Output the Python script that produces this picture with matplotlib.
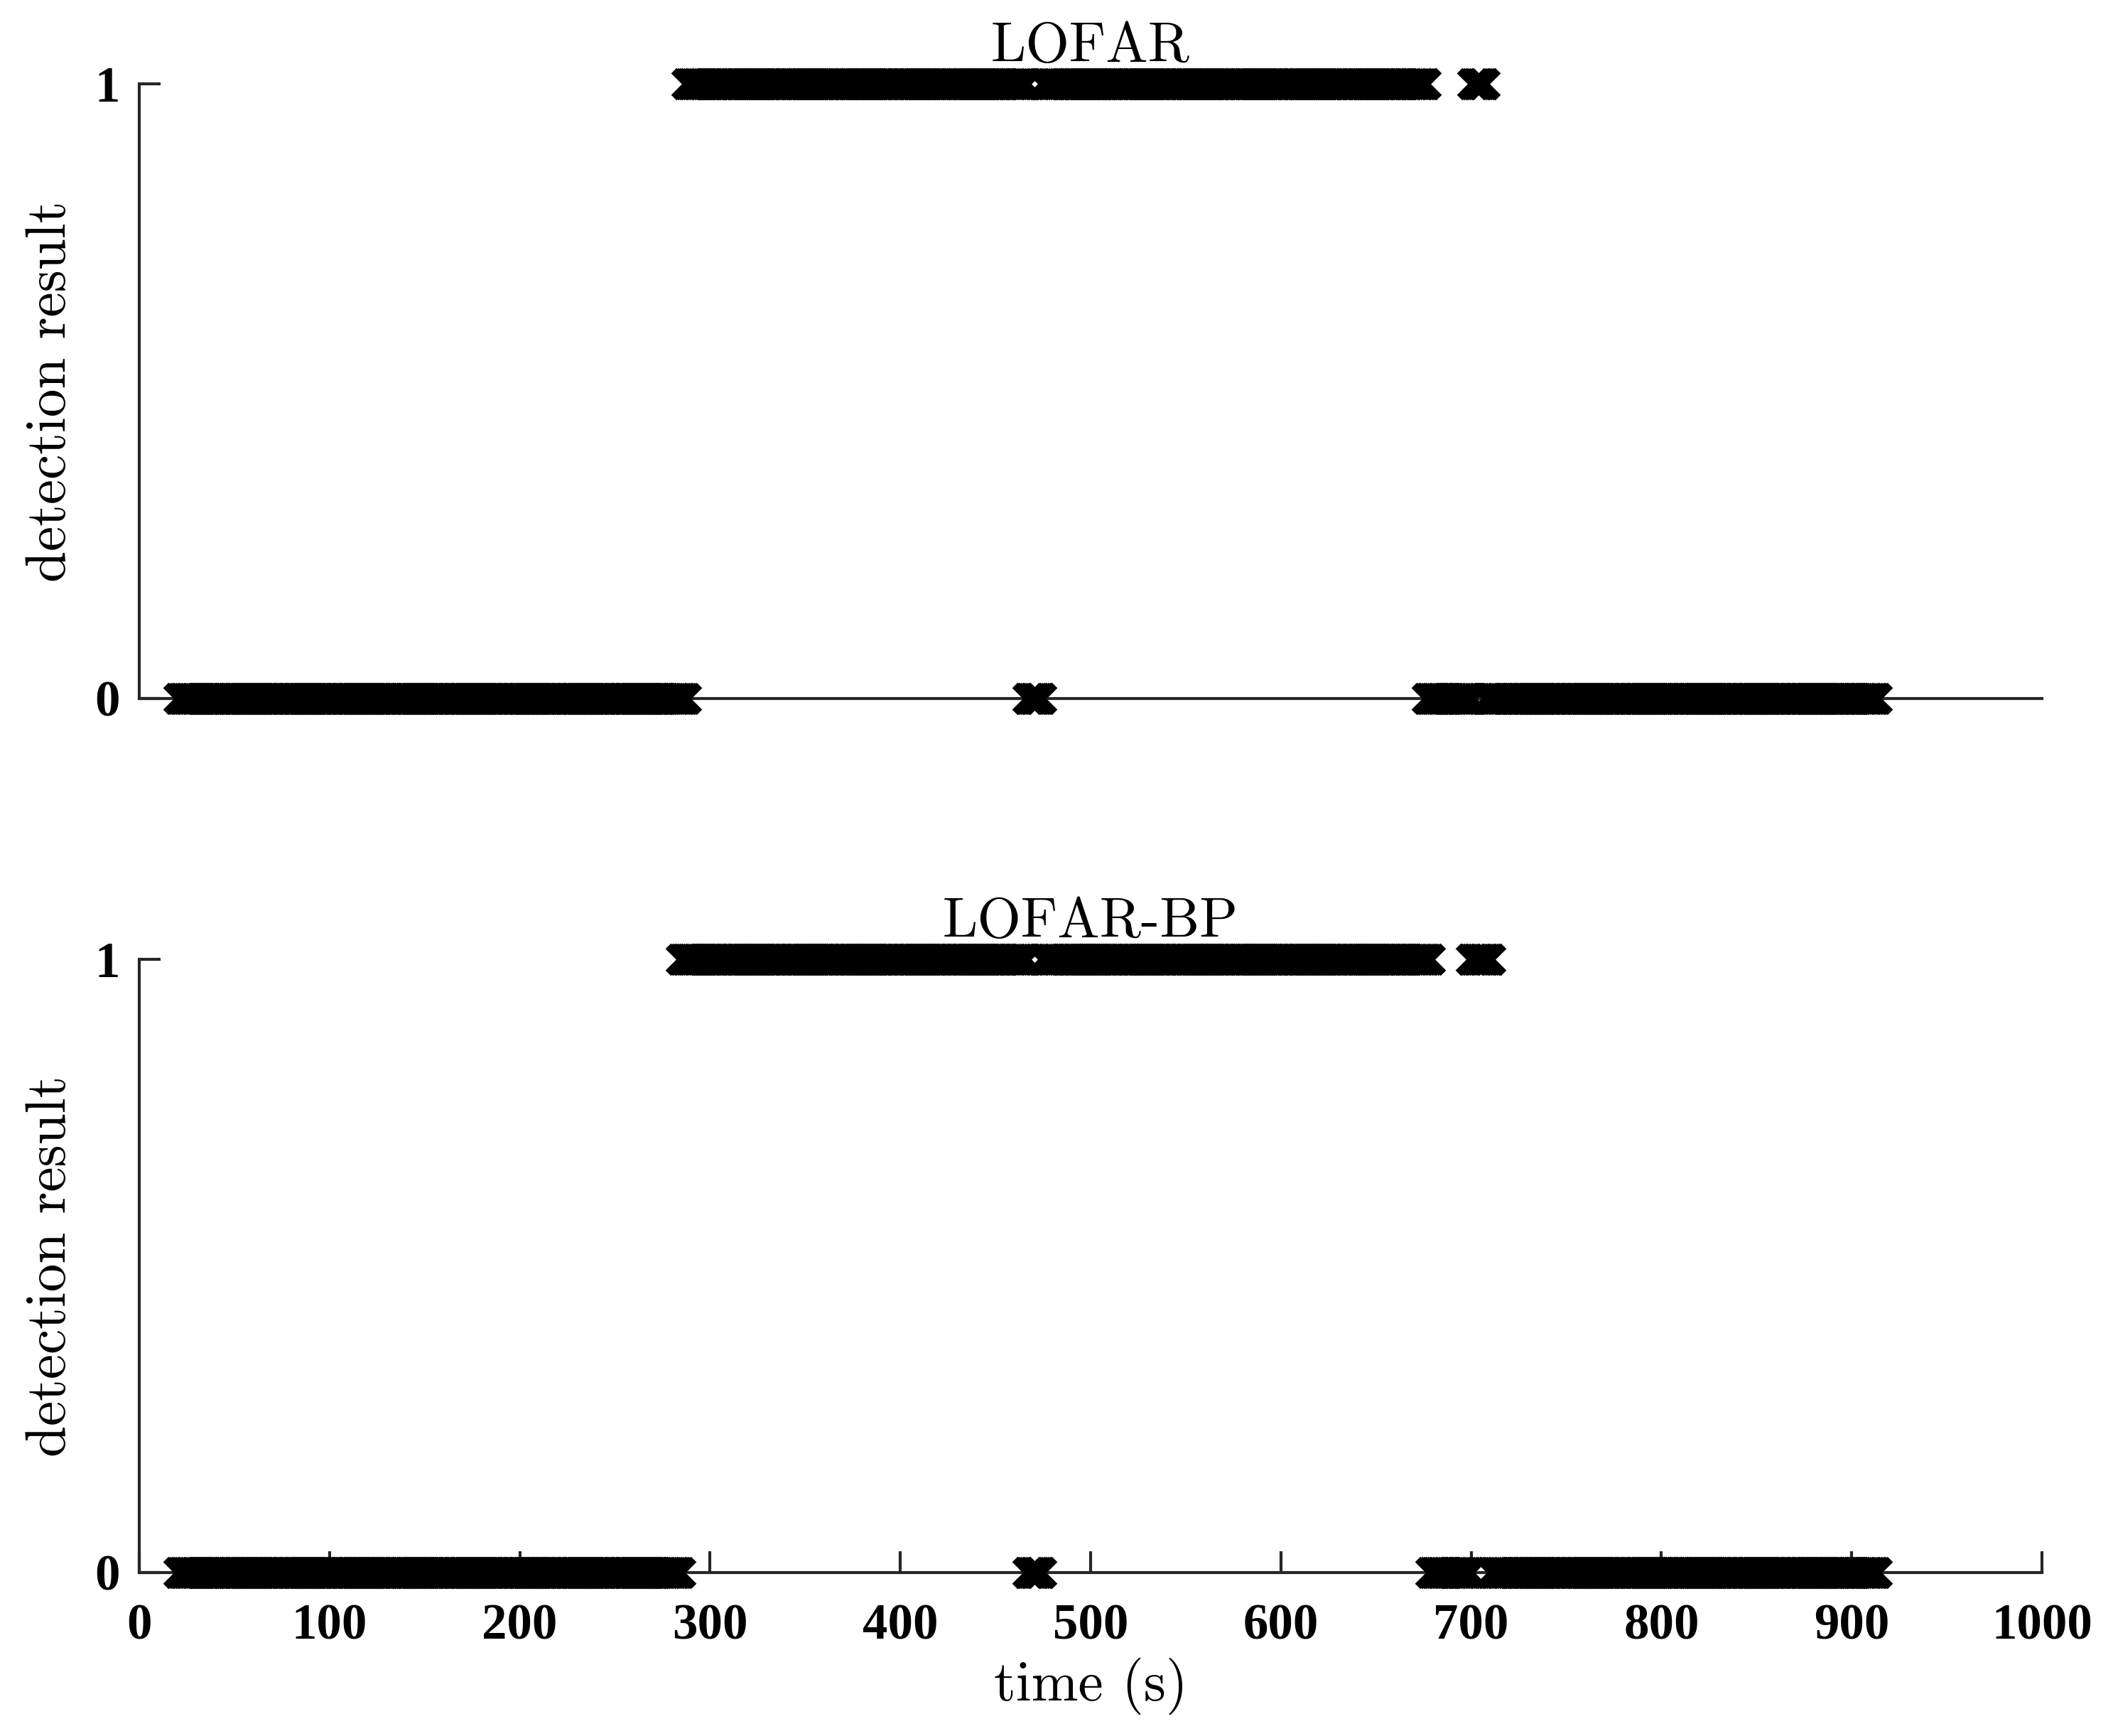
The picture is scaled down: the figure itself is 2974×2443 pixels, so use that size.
import numpy as np
import matplotlib
matplotlib.use("Agg")
import matplotlib.pyplot as plt

plt.rcParams['axes.unicode_minus'] = False

lofar_edges = [21, 288, 467, 475, 677, 701, 708, 914]
lofar_state = [0, 1, 0, 1, 0, 1, 0]
bp_edges = [21, 285, 467, 475, 679, 700, 711, 914]
bp_state = [0, 1, 0, 1, 0, 1, 0]
titles = ["LOFAR", "LOFAR-BP"]
xticks = [0, 100, 200, 300, 400, 500, 600, 700, 800, 900, 1000]


def expand(edges, state):
    # one detection decision per second
    t, v = [], []
    for i, s in enumerate(state):
        seg = np.arange(edges[i], edges[i + 1])
        t.append(seg)
        v.append(np.full(len(seg), s))
    return np.concatenate(t), np.concatenate(v)


W, H = 2974, 2443
fig = plt.figure(figsize=(W / 300, H / 300), dpi=300)

left = 196 / W
width = 2678 / W
ax1 = fig.add_axes([left, 1 - 983 / H, width, (983 - 118) / H])
ax2 = fig.add_axes([left, 1 - 2213 / H, width, (2213 - 1350) / H])

axis_col = '#262626'
tick_font = dict(family='Liberation Serif', weight='bold', size=17)
label_font = dict(family='cmr10', size=19)

for ax, (edges, state), title in zip([ax1, ax2],
                                      [(lofar_edges, lofar_state), (bp_edges, bp_state)],
                                      titles):
    t, v = expand(edges, state)
    ax.plot(t, v, 'x', color='k', ms=9, mew=2.6, clip_on=False, zorder=5)
    ax.set_xlim(0, 1000)
    ax.set_ylim(0, 1)
    for s in ['top', 'right']:
        ax.spines[s].set_visible(False)
    for s in ['left', 'bottom']:
        ax.spines[s].set_color(axis_col)
        ax.spines[s].set_linewidth(1.0)
    ax.set_yticks([0, 1])
    ax.set_yticklabels(['0', '1'], fontdict=tick_font)
    ax.tick_params(axis='y', direction='in', length=7.2, width=1.0, color=axis_col, pad=6.5)
    ax.set_ylabel('detection result', fontdict=dict(family='cmr10', size=19))
    ax.yaxis.set_label_coords(-0.033, 0.5)
    ax.set_title(title, fontdict=label_font, y=1.0, pad=7.5)

ax1.set_xticks([])

ax2.set_xticks(xticks)
ax2.set_xticklabels([str(x) for x in xticks], fontdict=tick_font)
ax2.tick_params(axis='x', direction='in', length=7.2, width=1.0, color=axis_col, pad=10.5)
ax2.set_xlabel('time (s)', fontdict=label_font)
ax2.xaxis.set_label_coords(0.5, -0.138)

fig.savefig('out.png', dpi=300, facecolor='white')
